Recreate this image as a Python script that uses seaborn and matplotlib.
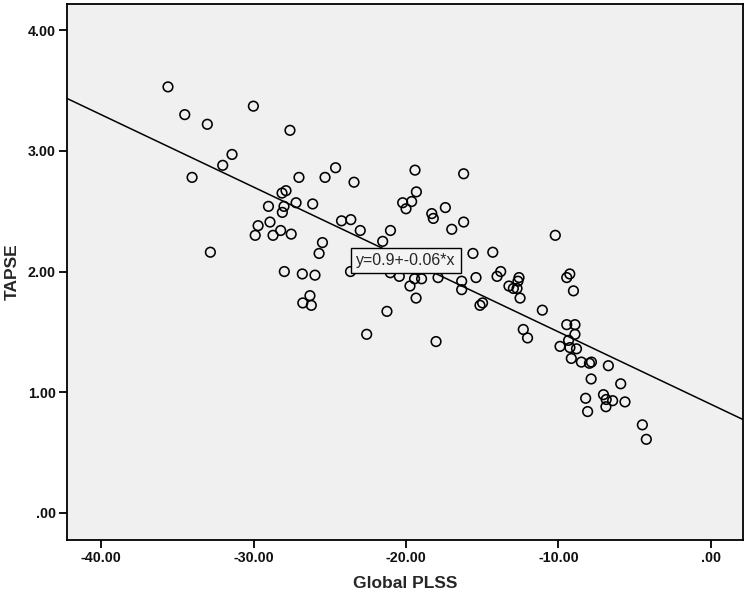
import matplotlib
matplotlib.use("Agg")
import matplotlib.pyplot as plt
import seaborn as sns
import pandas as pd
import numpy as np

# Data
global_plss = [
    -35.61, -34.51, -33.03, -30.01, -27.61, -31.41, -32.02, -34.03, -27.02, -25.31,
    -24.62, -23.41, -27.87, -28.13, -27.21, -26.12, -29.02, -28.00, -28.11, -28.92,
    -29.70, -29.89, -28.72, -28.22, -27.53, -25.48, -25.70, -32.83, -24.23, -23.62,
    -23.00, -21.02, -21.53, -23.64, -21.03, -20.44, -19.44, -18.98, -19.74, -19.34,
    -17.90, -16.35, -16.35, -15.41, -15.61, -14.31, -13.79, -14.03, -12.59, -12.66,
    -13.25, -12.96, -12.72, -12.52, -14.98, -15.15, -11.06, -10.21, -9.26, -9.46,
    -9.02, -9.46, -8.92, -8.92, -9.34, -9.90, -9.25, -8.82, -9.16, -8.50,
    -7.97, -7.84, -6.73, -7.86, -5.92, -8.22, -7.05, -6.87, -6.45, -6.89,
    -5.64, -8.09, -4.50, -4.24, -19.41, -16.22, -19.32, -20.22, -19.63, -20.00,
    -18.31, -18.21, -17.42, -17.00, -16.22, -12.31, -12.03, -21.25, -22.58, -18.03,
    -26.80, -25.97, -27.98, -26.30, -26.77, -26.21,
]
tapse = [
    3.53, 3.30, 3.22, 3.37, 3.17, 2.97, 2.88, 2.78, 2.78, 2.78,
    2.86, 2.74, 2.67, 2.65, 2.57, 2.56, 2.54, 2.54, 2.49, 2.41,
    2.38, 2.30, 2.30, 2.34, 2.31, 2.24, 2.15, 2.16, 2.42, 2.43,
    2.34, 2.34, 2.25, 2.00, 1.99, 1.96, 1.94, 1.94, 1.88, 1.78,
    1.95, 1.92, 1.85, 1.95, 2.15, 2.16, 2.00, 1.96, 1.95, 1.92,
    1.88, 1.86, 1.86, 1.78, 1.74, 1.72, 1.68, 2.30, 1.98, 1.95,
    1.84, 1.56, 1.56, 1.48, 1.43, 1.38, 1.37, 1.36, 1.28, 1.25,
    1.24, 1.25, 1.22, 1.11, 1.07, 0.95, 0.98, 0.94, 0.93, 0.88,
    0.92, 0.84, 0.73, 0.61, 2.84, 2.81, 2.66, 2.57, 2.58, 2.52,
    2.48, 2.44, 2.53, 2.35, 2.41, 1.52, 1.45, 1.67, 1.48, 1.42,
    1.98, 1.97, 2.00, 1.80, 1.74, 1.72,
]
fit_intercept = 0.9
fit_slope = -0.06
fit_label = "y=0.9+-0.06*x"

x_ticks = [-40, -30, -20, -10, 0]
x_ticklabels = ["-40.00", "-30.00", "-20.00", "-10.00", ".00"]
y_ticks = [0, 1, 2, 3, 4]
y_ticklabels = [".00", "1.00", "2.00", "3.00", "4.00"]
x_label = "Global PLSS"
y_label = "TAPSE"

sns.set_style("white")
plt.rcParams["font.family"] = ["Liberation Sans", "DejaVu Sans"]

df = pd.DataFrame({"Global PLSS": global_plss, "TAPSE": tapse})

fig = plt.figure(figsize=(7.49, 5.97), dpi=100)
ax = fig.add_axes([0.0895, 0.0955, 0.9025, 0.8975])
ax.set_facecolor("#F0F0F0")

xlim = (-42.23, 2.1)
ylim = (-0.224, 4.215)

line_df = pd.DataFrame({"x": list(xlim),
                        "y": [fit_intercept + fit_slope * v for v in xlim]})
sns.lineplot(data=line_df, x="x", y="y", ax=ax, color="black", linewidth=1.1,
             zorder=2)

sns.scatterplot(data=df, x="Global PLSS", y="TAPSE", ax=ax, marker="o",
                facecolor="none", edgecolor="black", linewidth=1.15, s=48,
                zorder=3)

ax.text(-20.0, 2.09, fit_label, ha="center", va="center", fontsize=11.5,
        zorder=5,
        bbox=dict(boxstyle="square,pad=0.3", facecolor="#F4F4F4",
                  edgecolor="black", linewidth=1.0))

ax.set_xlim(*xlim)
ax.set_ylim(*ylim)
ax.set_xticks(x_ticks)
ax.set_xticklabels(x_ticklabels)
ax.set_yticks(y_ticks)
ax.set_yticklabels(y_ticklabels)
ax.tick_params(axis="both", direction="out", length=6, width=1.3,
               color="black", labelsize=10.3, labelcolor="#111111", pad=2,
               bottom=True, left=True, top=False, right=False)
for lab in ax.get_xticklabels() + ax.get_yticklabels():
    lab.set_fontweight("bold")

for sp in ax.spines.values():
    sp.set_visible(True)
    sp.set_color("black")
    sp.set_linewidth(1.3)

ax.set_xlabel(x_label, fontsize=12.5, fontweight="bold", labelpad=8)
ax.set_ylabel(y_label, fontsize=12.5, fontweight="bold", labelpad=6)

fig.savefig("out.png", dpi=100, facecolor="white")
